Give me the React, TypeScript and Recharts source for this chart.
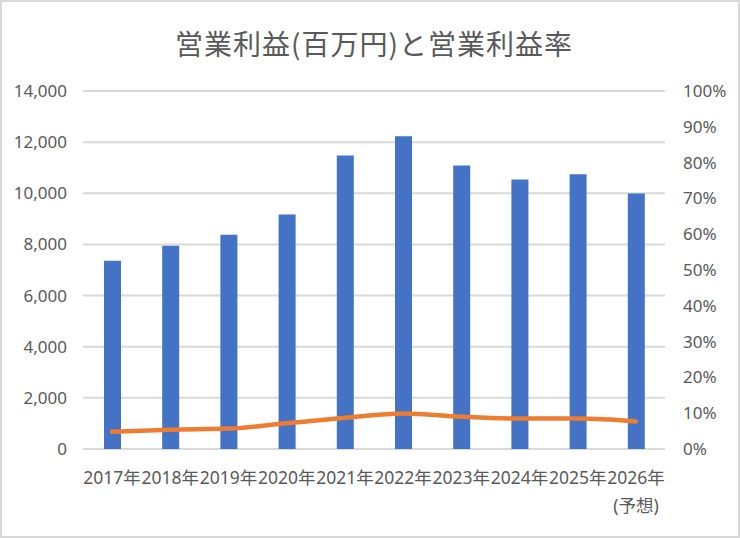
import React from 'react';
import { ComposedChart, Bar, Line, XAxis, YAxis, CartesianGrid } from 'recharts';

const years = ['2017年', '2018年', '2019年', '2020年', '2021年', '2022年', '2023年', '2024年', '2025年', '2026年'];
const yearNotes = ['', '', '', '', '', '', '', '', '', '(予想)'];
const operatingProfit = [7360, 7950, 8380, 9170, 11480, 12230, 11090, 10540, 10740, 9990];
const operatingMargin = [4.8, 5.4, 5.7, 7.2, 8.7, 9.9, 9.0, 8.5, 8.5, 7.7];
const profitTicks = [0, 2000, 4000, 6000, 8000, 10000, 12000, 14000];
const marginTicks = [0, 10, 20, 30, 40, 50, 60, 70, 80, 90, 100];
const title = '営業利益(百万円)と営業利益率';

const data = years.map((y, i) => ({
  year: y,
  profit: operatingProfit[i],
  margin: operatingMargin[i],
}));

const FONT = '"Noto Sans", "Noto Sans CJK JP", sans-serif';
const TEXT = '#595959';

const YearTick = (props: any) => {
  const { x, y, payload } = props;
  const idx = years.indexOf(payload.value);
  const note = idx >= 0 ? yearNotes[idx] : '';
  return (
    <g transform={`translate(${x},${y})`}>
      <text x={0} y={0} dy={35} textAnchor="middle" fill={TEXT} fontSize={17.5} fontFamily={FONT}>
        {payload.value}
      </text>
      {note ? (
        <text x={0} y={0} dy={63} textAnchor="middle" fill={TEXT} fontSize={17.5} fontFamily={FONT}>
          {note}
        </text>
      ) : null}
    </g>
  );
};

export default function App() {
  return (
    <div style={{ position: 'absolute', left: 0, top: 0, width: 740, height: 538, background: '#fff' }}>
      <svg width={740} height={80} style={{ position: 'absolute', left: 0, top: 0 }}>
        <text
          x={374}
          y={55}
          textAnchor="middle"
          fill={TEXT}
          fontSize={28}
          letterSpacing={1}
          fontFamily={'"Noto Sans CJK JP", sans-serif'}
        >
          {title}
        </text>
      </svg>
      <div style={{ position: 'absolute', left: 0, top: 0 }}>
        <ComposedChart width={740} height={538} data={data} margin={{ top: 91, right: 0, bottom: 29, left: 0 }}>
          <CartesianGrid yAxisId="left" vertical={false} stroke="#D9D9D9" strokeWidth={2} />
          <XAxis
            dataKey="year"
            interval={0}
            height={60}
            tickSize={0}
            tickMargin={0}
            axisLine={false}
            tickLine={false}
            tick={<YearTick />}
          />
          <YAxis
            yAxisId="left"
            width={83}
            domain={[0, 14000]}
            ticks={profitTicks}
            tickFormatter={(v: number) => v.toLocaleString('en-US')}
            axisLine={false}
            tickLine={false}
            tickSize={0}
            tickMargin={16}
            tick={{ fill: TEXT, fontSize: 17, fontFamily: FONT }}
          />
          <YAxis
            yAxisId="right"
            orientation="right"
            width={75}
            domain={[0, 100]}
            ticks={marginTicks}
            tickFormatter={(v: number) => `${v}%`}
            axisLine={false}
            tickLine={false}
            tickSize={0}
            tickMargin={18}
            tick={{ fill: TEXT, fontSize: 17, fontFamily: FONT, textAnchor: 'start' }}
          />
          <Bar yAxisId="left" dataKey="profit" fill="#4472C4" barSize={17} isAnimationActive={false} />
          <Line
            yAxisId="right"
            type="monotone"
            dataKey="margin"
            stroke="#ED7D31"
            strokeWidth={4.5}
            strokeLinecap="round"
            dot={false}
            activeDot={false}
            isAnimationActive={false}
          />
        </ComposedChart>
      </div>
      <div
        style={{
          position: 'absolute',
          left: 0,
          top: 0,
          width: 740,
          height: 538,
          boxSizing: 'border-box',
          border: '2px solid #D9D9D9',
          pointerEvents: 'none',
        }}
      />
    </div>
  );
}
